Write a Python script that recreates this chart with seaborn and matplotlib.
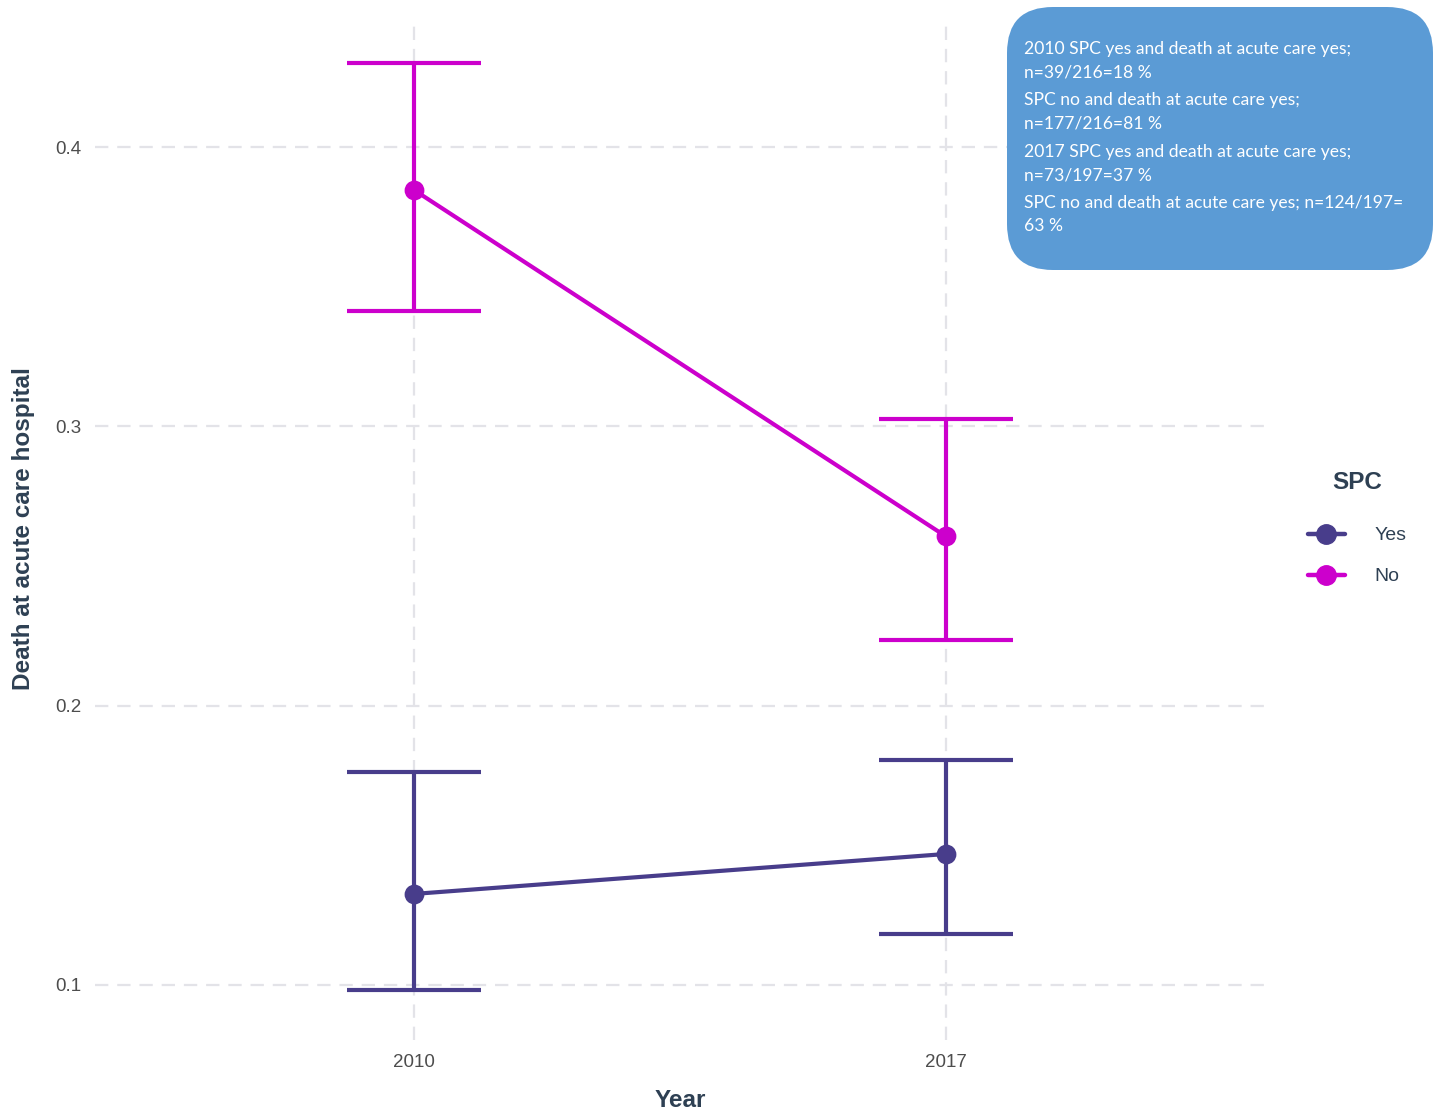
import matplotlib
matplotlib.use("Agg")
import matplotlib.pyplot as plt
from matplotlib.patches import FancyBboxPatch
from matplotlib.lines import Line2D
import seaborn as sns
import pandas as pd
import numpy as np

# Estimated proportions with 95% confidence limits
years = ["2010", "2017"]
groups = ["Yes", "No"]
est_yes = [0.1326, 0.1469]
low_yes = [0.0982, 0.1183]
high_yes = [0.1763, 0.1806]
est_no = [0.3846, 0.2606]
low_no = [0.3413, 0.2234]
high_no = [0.4301, 0.3025]

notes = [
    "2010 SPC yes and death at acute care yes;\nn=39/216=18 %",
    "SPC no and death at acute care yes;\nn=177/216=81 %",
    "2017 SPC yes and death at acute care yes;\nn=73/197=37 %",
    "SPC no and death at acute care yes; n=124/197=\n63 %",
]

palette = {"Yes": "#483D8B", "No": "#CC00CC"}
text_col = "#2E4053"
tick_col = "#4D4D4D"

df = pd.DataFrame({
    "Year": years * 2,
    "SPC": ["Yes"] * 2 + ["No"] * 2,
    "est": est_yes + est_no,
    "low": low_yes + low_no,
    "high": high_yes + high_no,
})

sns.set_theme(style="white")
plt.rcParams["font.family"] = ["Liberation Sans", "DejaVu Sans"]

fig = plt.figure(figsize=(14.35, 11.1), dpi=100)
ax = fig.add_axes([95 / 1435, 1 - 1040 / 1110, (1265 - 95) / 1435, (1040 - 18) / 1110])

sns.pointplot(data=df, x="Year", y="est", hue="SPC", order=years, hue_order=groups,
              palette=palette, errorbar=None, markers="o", markersize=12,
              linewidth=3, ax=ax, legend=False, zorder=3)

for g in groups:
    sub = df[df["SPC"] == g].set_index("Year").loc[years]
    xs = np.arange(len(years))
    ax.errorbar(xs, sub["est"], yerr=[sub["est"] - sub["low"], sub["high"] - sub["est"]],
                fmt="none", ecolor=palette[g], elinewidth=3, capsize=48, capthick=3, zorder=2)

ax.set_xlim(-0.6, 1.6)
ax.set_ylim(0.0803, 0.4462)
ax.set_yticks([0.1, 0.2, 0.3, 0.4])
ax.set_yticklabels(["0.1", "0.2", "0.3", "0.4"])
ax.grid(True, linestyle=(0, (6, 4)), color="#E3E3E8", linewidth=1.6, zorder=0)
ax.set_axisbelow(True)
for s in ax.spines.values():
    s.set_visible(False)
ax.tick_params(axis="both", length=0, labelsize=13.5, labelcolor=tick_col, pad=10)

ax.set_xlabel("Year", fontsize=17.5, fontweight="bold", color=text_col, labelpad=13)
ax.set_ylabel("Death at acute care hospital", fontsize=17.5, fontweight="bold",
              color=text_col, labelpad=14)

handles = [Line2D([0], [0], color=palette[g], marker="o", markersize=14, linewidth=3.2)
           for g in groups]
leg = fig.legend(handles, groups, title="SPC", loc="center",
                 bbox_to_anchor=(1357 / 1435, 1 - 528 / 1110), frameon=False,
                 fontsize=14, title_fontproperties={"size": 17.5, "weight": "bold"},
                 handlelength=1.9, handletextpad=1.5, labelspacing=1.2, borderaxespad=0)
leg.get_title().set_color(text_col)
leg._legend_box.sep = 24
for t in leg.get_texts():
    t.set_color(text_col)

# Annotation box with the raw counts
W, H = 1435, 1110
box = FancyBboxPatch((1007 / W, 1 - 270 / H), (1433 - 1007) / W, (270 - 7) / H,
                     boxstyle="round,pad=0,rounding_size=0.032",
                     transform=fig.transFigure, facecolor="#5B9BD5",
                     edgecolor="none", zorder=5, mutation_aspect=W / H)
fig.patches.append(box)
for i, note in enumerate(notes):
    y = 41 + i * 51.3
    fig.text(1024 / W, 1 - y / H, note, color="white", fontsize=12.6,
             family=["Lato", "DejaVu Sans"], va="top", ha="left",
             linespacing=1.58, zorder=6)

fig.savefig("out.png", dpi=100)
